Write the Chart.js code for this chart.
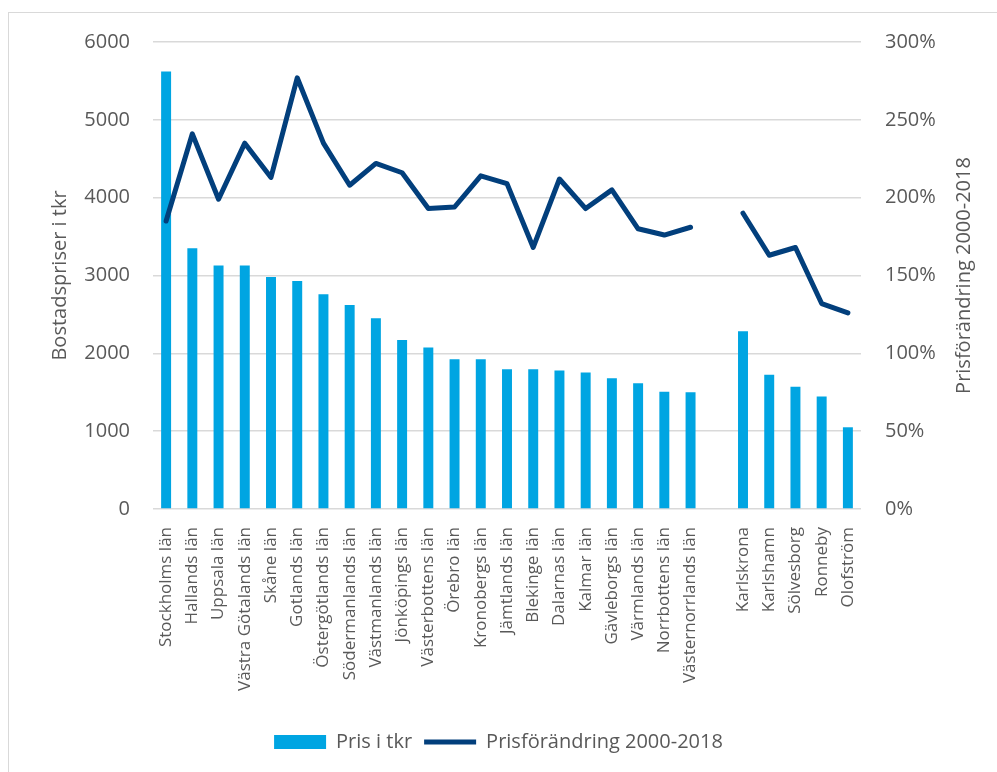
<!DOCTYPE html>
<html lang="sv">
<head>
  <meta charset="UTF-8">
  <title>Bostadspriser</title>
  <script src="https://cdn.jsdelivr.net/npm/chart.js"></script>
  <style>
    body { margin: 0; background: #fff; }
    #wrap { position: relative; width: 997px; height: 772px; }
    #frame { position: absolute; left: 8px; top: 12px; width: 1000px; height: 800px; border: 1px solid #d9d9d9; box-sizing: border-box; }
    canvas { position: absolute; left: 0; top: 0; }
  </style>
</head>
<body>
  <div id="wrap">
    <div id="frame"></div>
    <canvas id="chart" width="997" height="772"></canvas>
  </div>

  <script>
    // data
    const categories = [
      'Stockholms län', 'Hallands län', 'Uppsala län', 'Västra Götalands län', 'Skåne län',
      'Gotlands län', 'Östergötlands län', 'Södermanlands län', 'Västmanlands län', 'Jönköpings län',
      'Västerbottens län', 'Örebro län', 'Kronobergs län', 'Jämtlands län', 'Blekinge län',
      'Dalarnas län', 'Kalmar län', 'Gävleborgs län', 'Värmlands län', 'Norrbottens län',
      'Västernorrlands län', '', 'Karlskrona', 'Karlshamn', 'Sölvesborg', 'Ronneby', 'Olofström'
    ];
    const prices = [
      5620, 3350, 3130, 3130, 2980, 2930, 2760, 2620, 2450, 2170,
      2075, 1925, 1925, 1795, 1795, 1780, 1755, 1680, 1615, 1505,
      1500, null, 2285, 1725, 1570, 1445, 1050
    ];
    const changes = [
      185, 241, 199, 235, 213, 277, 235, 208, 222, 216,
      193, 194, 214, 209, 168, 212, 193, 205, 180, 176,
      181, null, 190, 163, 168, 132, 126
    ];
    const leftTicks = [0, 1000, 2000, 3000, 4000, 5000, 6000];
    const rightTicks = [0, 50, 100, 150, 200, 250, 300];

    const textColor = '#595959';
    const fontFamily = '"Open Sans", sans-serif';

    // axis titles (right one reads bottom-up, so draw both by hand)
    const axisTitles = {
      id: 'axisTitles',
      afterDraw(chart) {
        const c = chart.ctx;
        const area = chart.chartArea;
        const midY = (area.top + area.bottom) / 2;
        c.save();
        c.fillStyle = textColor;
        c.font = '20px ' + fontFamily;
        c.textAlign = 'center';
        c.textBaseline = 'middle';
        c.translate(60, midY);
        c.rotate(-Math.PI / 2);
        c.fillText('Bostadspriser i tkr', 0, 0);
        c.restore();
        c.save();
        c.fillStyle = textColor;
        c.font = '20px ' + fontFamily;
        c.textAlign = 'center';
        c.textBaseline = 'middle';
        c.translate(964, midY);
        c.rotate(-Math.PI / 2);
        c.fillText('Prisförändring 2000-2018', 0, 0);
        c.restore();
      }
    };

    new Chart(document.getElementById('chart'), {
      data: {
        labels: categories,
        datasets: [
          {
            type: 'line',
            label: 'Prisförändring 2000-2018',
            data: changes,
            yAxisID: 'y2',
            borderColor: '#023F7C',
            backgroundColor: '#023F7C',
            borderWidth: 5,
            borderCapStyle: 'round',
            borderJoinStyle: 'round',
            pointRadius: 0,
            pointHoverRadius: 0,
            pointStyle: 'line',
            spanGaps: false,
            order: 1
          },
          {
            type: 'bar',
            label: 'Pris i tkr',
            data: prices,
            yAxisID: 'y',
            backgroundColor: '#00A5E2',
            borderWidth: 0,
            barPercentage: 0.38,
            categoryPercentage: 1,
            pointStyle: 'rect',
            order: 2
          }
        ]
      },
      options: {
        responsive: false,
        animation: false,
        layout: { padding: { top: 42, bottom: 10, left: 0, right: 0 } },
        plugins: {
          tooltip: { enabled: false },
          legend: {
            position: 'bottom',
            reverse: true,
            labels: {
              usePointStyle: true,
              pointStyleWidth: 52,
              boxHeight: 14,
              padding: 12,
              color: textColor,
              font: { family: fontFamily, size: 20 }
            }
          }
        },
        scales: {
          x: {
            grid: { display: false },
            border: { display: false },
            ticks: {
              autoSkip: false,
              minRotation: 90,
              maxRotation: 90,
              padding: 10,
              color: textColor,
              font: { family: fontFamily, size: 17 }
            },
            afterFit(scale) { scale.height = 211; }
          },
          y: {
            position: 'left',
            min: 0,
            max: 6000,
            afterBuildTicks(scale) { scale.ticks = leftTicks.map(v => ({ value: v })); },
            grid: { color: '#d9d9d9', lineWidth: 1.5, drawTicks: false },
            border: { display: false },
            ticks: {
              padding: 23,
              color: textColor,
              font: { family: fontFamily, size: 20 },
              callback: v => String(v)
            },
            afterFit(scale) { scale.width = 153; }
          },
          y2: {
            position: 'right',
            min: 0,
            max: 300,
            afterBuildTicks(scale) { scale.ticks = rightTicks.map(v => ({ value: v })); },
            grid: { display: false, drawTicks: false },
            border: { display: false },
            ticks: {
              padding: 24,
              color: textColor,
              font: { family: fontFamily, size: 20 },
              callback: v => v + '%'
            },
            afterFit(scale) { scale.width = 136; }
          }
        }
      },
      plugins: [axisTitles]
    });
  </script>
</body>
</html>
